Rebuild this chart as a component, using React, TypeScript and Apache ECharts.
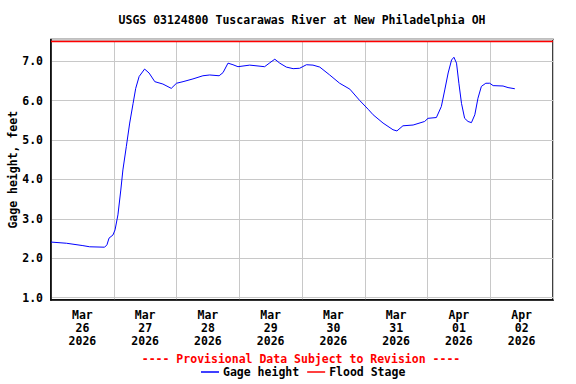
import React, { useEffect, useRef } from "react";
import * as echarts from "echarts";

const TITLE = "USGS 03124800 Tuscarawas River at New Philadelphia OH";
const SUBTITLE = "---- Provisional Data Subject to Revision ----";
const Y_NAME = "Gage height, feet";
const DAY_LABELS = [
  "Mar\n26\n2026", "Mar\n27\n2026", "Mar\n28\n2026", "Mar\n29\n2026",
  "Mar\n30\n2026", "Mar\n31\n2026", "Apr\n01\n2026", "Apr\n02\n2026",
];
// hours since 2026-03-26 00:00
const HOURS = [
  0, 5.9, 12.2, 14.8, 20.5, 21.4, 22.2, 23.7, 24.5, 25.6, 26.7, 27.5, 28.8, 30.1,
  31.4, 32.4, 33.7, 35.8, 37.5, 39.7, 42.8, 46.0, 48, 50.5, 54.3, 58.1, 60.7, 64.3,
  65.8, 67.7, 69.6, 71.5, 76, 81.7, 83.7, 85.6, 87.5, 90, 92.6, 95.1, 97.7, 100.2,
  102.8, 106.6, 110.4, 114.3, 118.1, 121.3, 123.2, 127, 130.8, 132.3, 134.6, 138.5,
  142.9, 144.2, 147.4, 149.3, 150.6, 151.9, 153.2, 154.1, 155.1, 156, 157, 158.2,
  159.5, 160.8, 162.1, 163.3, 164.6, 166.3, 167.8, 169.1, 172.9, 174.8, 177.4,
];
const GAGE = [
  2.41, 2.38, 2.32, 2.29, 2.28, 2.34, 2.51, 2.59, 2.72, 3.10, 3.73, 4.24, 4.83, 5.43,
  5.93, 6.31, 6.61, 6.80, 6.70, 6.48, 6.42, 6.31, 6.44, 6.48, 6.55, 6.63, 6.65, 6.63,
  6.71, 6.95, 6.91, 6.86, 6.90, 6.86, 6.96, 7.05, 6.95, 6.85, 6.81, 6.82, 6.91, 6.90,
  6.85, 6.65, 6.44, 6.29, 6.00, 5.78, 5.64, 5.43, 5.26, 5.23, 5.36, 5.38,
  5.47, 5.55, 5.57, 5.85, 6.27, 6.70, 7.03, 7.10, 6.95, 6.44, 5.93, 5.55,
  5.47, 5.44, 5.64, 6.06, 6.36, 6.44, 6.44, 6.38, 6.37, 6.33, 6.30,
];
const FLOOD_STAGE = 7.5;
const X_MIN = 0;
const X_MAX = 192;
const Y_MIN = 0.94;
const Y_MAX = 7.55;

const FONT = "'DejaVu Sans Mono', monospace";

export default function App() {
  const ref = useRef<HTMLDivElement>(null);
  useEffect(() => {
    if (!ref.current) return;
    const chart = echarts.init(ref.current, null, { renderer: "svg" });
    const gageData = HOURS.map((h, i) => [h, GAGE[i]]);
    const floodData = [[X_MIN, FLOOD_STAGE], [X_MAX, FLOOD_STAGE]];
    chart.setOption({
      animation: false,
      backgroundColor: "#fff",
      textStyle: { fontFamily: FONT, fontWeight: "bold", fontSize: 11.5, color: "#000" },
      title: [
        {
          text: TITLE,
          left: 302,
          top: 14,
          padding: 0,
          textAlign: "center",
          textStyle: { fontFamily: FONT, fontWeight: "bold", fontSize: 11.5, lineHeight: 12, color: "#000" },
        },
        {
          text: SUBTITLE,
          left: 301,
          top: 353,
          padding: 0,
          textAlign: "center",
          textStyle: { fontFamily: FONT, fontWeight: "bold", fontSize: 11.5, lineHeight: 12, color: "#ff0000" },
        },
      ],
      legend: {
        left: 201,
        top: 366,
        padding: 0,
        icon: "rect",
        itemWidth: 18,
        itemHeight: 1.5,
        itemGap: 8,
        textStyle: {
          fontFamily: FONT,
          fontWeight: "bold",
          fontSize: 11.5,
          lineHeight: 12,
          color: "#000",
          padding: [0, 0, 0, -1],
        },
        data: ["Gage height", "Flood Stage"],
      },
      grid: {
        left: 51,
        top: 39.5,
        right: 23,
        bottom: 84,
        show: true,
        borderColor: "#000",
        borderWidth: 1.5,
        containLabel: false,
        outerBoundsMode: "none",
      },
      xAxis: [
        { type: "value", min: X_MIN, max: X_MAX, show: false },
        {
          type: "category",
          data: DAY_LABELS,
          position: "bottom",
          boundaryGap: true,
          axisLine: { show: true, lineStyle: { color: "#000", width: 1.5 } },
          axisTick: { show: false },
          axisLabel: {
            interval: 0,
            margin: 8,
            lineHeight: 13,
            fontFamily: FONT,
            fontWeight: "bold",
            fontSize: 11.5,
            color: "#000",
          },
          splitLine: { show: true, interval: 0, lineStyle: { color: "#c8c8c8", width: 1 } },
        },
      ],
      yAxis: {
        type: "value",
        min: Y_MIN,
        max: Y_MAX,
        splitNumber: 6,
        name: Y_NAME,
        nameLocation: "middle",
        nameGap: 32,
        nameMoveOverlap: false,
        nameTextStyle: { fontFamily: FONT, fontWeight: "bold", fontSize: 11.5, color: "#000" },
        axisLine: { show: true, lineStyle: { color: "#000", width: 1.5 } },
        axisTick: { show: false },
        axisLabel: {
          showMinLabel: false,
          showMaxLabel: false,
          margin: 8,
          formatter: (v: number) => v.toFixed(1),
          fontFamily: FONT,
          fontWeight: "bold",
          fontSize: 11.5,
          color: "#000",
        },
        splitLine: { show: true, lineStyle: { color: "#c8c8c8", width: 1 } },
      },
      series: [
        {
          name: "Gage height",
          type: "line",
          xAxisIndex: 0,
          data: gageData,
          showSymbol: false,
          symbol: "none",
          lineStyle: { color: "#0000ff", width: 1 },
          itemStyle: { color: "#0000ff" },
          z: 3,
        },
        {
          name: "Flood Stage",
          type: "line",
          xAxisIndex: 0,
          data: floodData,
          showSymbol: false,
          symbol: "none",
          lineStyle: { color: "#ff0000", width: 1.5 },
          itemStyle: { color: "#ff0000" },
          z: 4,
        },
      ],
    });
    return () => chart.dispose();
  }, []);
  return (
    <div
      ref={ref}
      style={{ position: "fixed", left: 0, top: 0, width: 576, height: 384, background: "#fff" }}
    />
  );
}
